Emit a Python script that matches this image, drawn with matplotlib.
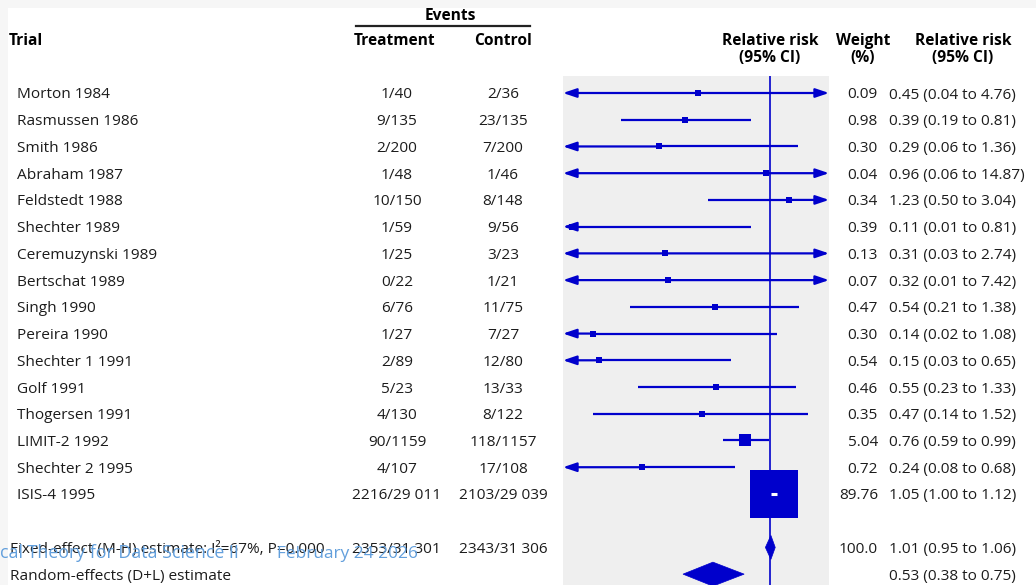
import numpy as np
import matplotlib
matplotlib.use("Agg")
import matplotlib.pyplot as plt
from matplotlib.patches import Polygon, Rectangle

# ---- trial data -------------------------------------------------------
trials = ["Morton 1984", "Rasmussen 1986", "Smith 1986", "Abraham 1987",
          "Feldstedt 1988", "Shechter 1989", "Ceremuzynski 1989",
          "Bertschat 1989", "Singh 1990", "Pereira 1990", "Shechter 1 1991",
          "Golf 1991", "Thogersen 1991", "LIMIT-2 1992", "Shechter 2 1995",
          "ISIS-4 1995"]
treatment_events = ["1/40", "9/135", "2/200", "1/48", "10/150", "1/59", "1/25",
                    "0/22", "6/76", "1/27", "2/89", "5/23", "4/130", "90/1159",
                    "4/107", "2216/29 011"]
control_events = ["2/36", "23/135", "7/200", "1/46", "8/148", "9/56", "3/23",
                  "1/21", "11/75", "7/27", "12/80", "13/33", "8/122",
                  "118/1157", "17/108", "2103/29 039"]
weights = [0.09, 0.98, 0.30, 0.04, 0.34, 0.39, 0.13, 0.07, 0.47, 0.30, 0.54,
           0.46, 0.35, 5.04, 0.72, 89.76]
rel_risk = [0.45, 0.39, 0.29, 0.96, 1.23, 0.11, 0.31, 0.32, 0.54, 0.14, 0.15,
            0.55, 0.47, 0.76, 0.24, 1.05]
ci_low = [0.04, 0.19, 0.06, 0.06, 0.50, 0.01, 0.03, 0.01, 0.21, 0.02, 0.03,
          0.23, 0.14, 0.59, 0.08, 1.00]
ci_high = [4.76, 0.81, 1.36, 14.87, 3.04, 0.81, 2.74, 7.42, 1.38, 1.08, 0.65,
           1.33, 1.52, 0.99, 0.68, 1.12]

# ---- pooled estimates -------------------------------------------------
summary_labels = ["Fixed-effect (M-H) estimate: I\u00b2=67%, P=0.000",
                  "Random-effects (D+L) estimate"]
summary_treatment = ["2353/31 301", ""]
summary_control = ["2343/31 306", ""]
summary_weight = ["100.0", ""]
summary_rr = [1.01, 0.53]
summary_low = [0.95, 0.38]
summary_high = [1.06, 0.75]

footer_left = "cal Theory for Data Science II"
footer_date = "February 24 2026"

# ---- layout -----------------------------------------------------------
W, H, DPI = 1036, 585, 100
ROW0_PX, ROW_PX = 93.0, 26.73          # first row centre / row pitch (px)
BLUE = "#0000cc"
TEXT = "#1c1c1c"
PANEL = "#efefef"
FONT = "Open Sans"
FS = 11.1
HFS = 11.2
TXT_DY = 2.0 / ROW_PX                  # nudge glyphs onto the row centre


def row_of(px):
    return (px - ROW0_PX) / ROW_PX


fig = plt.figure(figsize=(W / DPI, H / DPI), dpi=DPI)
fig.patch.set_facecolor("white")

# page axes: x in pixels, y in row units
page = fig.add_axes([0, 0, 1, 1])
page.set_xlim(0, W)
page.set_ylim(row_of(H), row_of(0))
page.axis("off")
page.add_patch(Rectangle((0, row_of(0)), W, row_of(8) - row_of(0),
                         color="#f6f6f6", lw=0, zorder=0))
page.add_patch(Rectangle((0, row_of(0)), 8, row_of(H) - row_of(0),
                         color="#f6f6f6", lw=0, zorder=0))

# forest panel (log scale)
PX_L, PX_R, PX_T, PX_ONE = 563, 829, 76, 770
x_min = 0.1
x_max = 10 ** ((PX_R - PX_ONE) / (PX_ONE - PX_L))
ax = fig.add_axes([PX_L / W, 0, (PX_R - PX_L) / W, (H - PX_T) / H])
ax.set_xscale("log")
ax.set_xlim(x_min, x_max)
ax.set_ylim(row_of(H), row_of(PX_T))
ax.set_facecolor(PANEL)
for s in ax.spines.values():
    s.set_visible(False)
ax.set_xticks([])
ax.set_yticks([])
ax.xaxis.set_minor_locator(matplotlib.ticker.NullLocator())

ax.axvline(1.0, color=BLUE, lw=1.2, zorder=2)

arrow_style = "-|>,head_length=0.8,head_width=0.27"
for i, (est, lo, hi, w) in enumerate(zip(rel_risk, ci_low, ci_high, weights)):
    y = i
    # left half of the interval
    if lo < x_min:
        ax.annotate("", xy=(x_min, y), xytext=(est, y),
                    arrowprops=dict(arrowstyle=arrow_style, color=BLUE, lw=1.6,
                                    shrinkA=0, shrinkB=0, mutation_scale=10),
                    zorder=3)
    else:
        ax.plot([lo, est], [y, y], color=BLUE, lw=1.6, zorder=3,
                solid_capstyle="butt")
    # right half of the interval
    if hi > x_max:
        ax.annotate("", xy=(x_max, y), xytext=(est, y),
                    arrowprops=dict(arrowstyle=arrow_style, color=BLUE, lw=1.6,
                                    shrinkA=0, shrinkB=0, mutation_scale=10),
                    zorder=3)
    else:
        ax.plot([est, hi], [y, y], color=BLUE, lw=1.6, zorder=3,
                solid_capstyle="butt")
    # weight-scaled box
    side_px = max(5.5, 47.0 * np.sqrt(w / max(weights)))
    ax.plot(est, y, marker="s", ms=side_px * 72 / DPI, color=BLUE,
            mew=0, zorder=4)
    if side_px > 20:
        ax.plot(est, y, marker="_", ms=6 * 72 / DPI, mew=2.2, color="white",
                zorder=5)

n = len(trials)
summary_rows = [n + 1, n + 2]
DIAMOND_HALF = 12.0 / ROW_PX
for y, est, lo, hi in zip(summary_rows, summary_rr, summary_low, summary_high):
    ax.add_patch(Polygon([(lo, y), (est, y - DIAMOND_HALF), (hi, y),
                          (est, y + DIAMOND_HALF)], closed=True,
                         facecolor=BLUE, edgecolor=BLUE, lw=0.5, zorder=4))

# ---- text columns -----------------------------------------------------
X_NAME, X_SUMMARY, X_TREAT, X_CTRL = 17, 10, 397, 503
X_WEIGHT, X_RR = 878, 889

bold = dict(fontfamily=FONT, fontsize=HFS, fontweight="bold", color="black",
            va="center")
page.text(9, row_of(39) + TXT_DY, "Trial", ha="left", **bold)
page.text(450, row_of(14) + TXT_DY, "Events", ha="center", **bold)
page.plot([356, 530], [row_of(26), row_of(26)], color="#222222", lw=1.6)
page.text(X_TREAT - 2, row_of(39) + TXT_DY, "Treatment", ha="center", **bold)
page.text(X_CTRL, row_of(39) + TXT_DY, "Control", ha="center", **bold)
page.text(770, row_of(39) + TXT_DY, "Relative risk", ha="center", **bold)
page.text(770, row_of(56) + TXT_DY, "(95% CI)", ha="center", **bold)
page.text(863, row_of(39) + TXT_DY, "Weight", ha="center", **bold)
page.text(863, row_of(56) + TXT_DY, "(%)", ha="center", **bold)
page.text(963, row_of(39) + TXT_DY, "Relative risk", ha="center", **bold)
page.text(963, row_of(56) + TXT_DY, "(95% CI)", ha="center", **bold)

body = dict(fontfamily=FONT, fontsize=FS, color=TEXT, va="center")
for i in range(n):
    y = i + TXT_DY
    page.text(X_NAME, y, trials[i], ha="left", **body)
    page.text(X_TREAT, y, treatment_events[i], ha="center", **body)
    page.text(X_CTRL, y, control_events[i], ha="center", **body)
    page.text(X_WEIGHT, y, f"{weights[i]:.2f}", ha="right", **body)
    page.text(X_RR, y,
              f"{rel_risk[i]:.2f} ({ci_low[i]:.2f} to {ci_high[i]:.2f})",
              ha="left", **body)

for k, row in enumerate(summary_rows):
    y = row + TXT_DY
    page.text(X_SUMMARY, y, summary_labels[k], ha="left", **body)
    page.text(X_TREAT - 1, y, summary_treatment[k], ha="center", **body)
    page.text(X_CTRL, y, summary_control[k], ha="center", **body)
    page.text(X_WEIGHT, y, summary_weight[k], ha="right", **body)
    page.text(X_RR, y,
              f"{summary_rr[k]:.2f} ({summary_low[k]:.2f} to {summary_high[k]:.2f})",
              ha="left", **body)

# slide footer
foot = dict(fontfamily=FONT, color="#629fdc", va="center", ha="left", zorder=6)
page.text(0, row_of(553), footer_left, fontsize=12.8, **foot)
page.text(277, row_of(554), footer_date, fontsize=12.4, **foot)

fig.savefig("out.png", dpi=DPI)
